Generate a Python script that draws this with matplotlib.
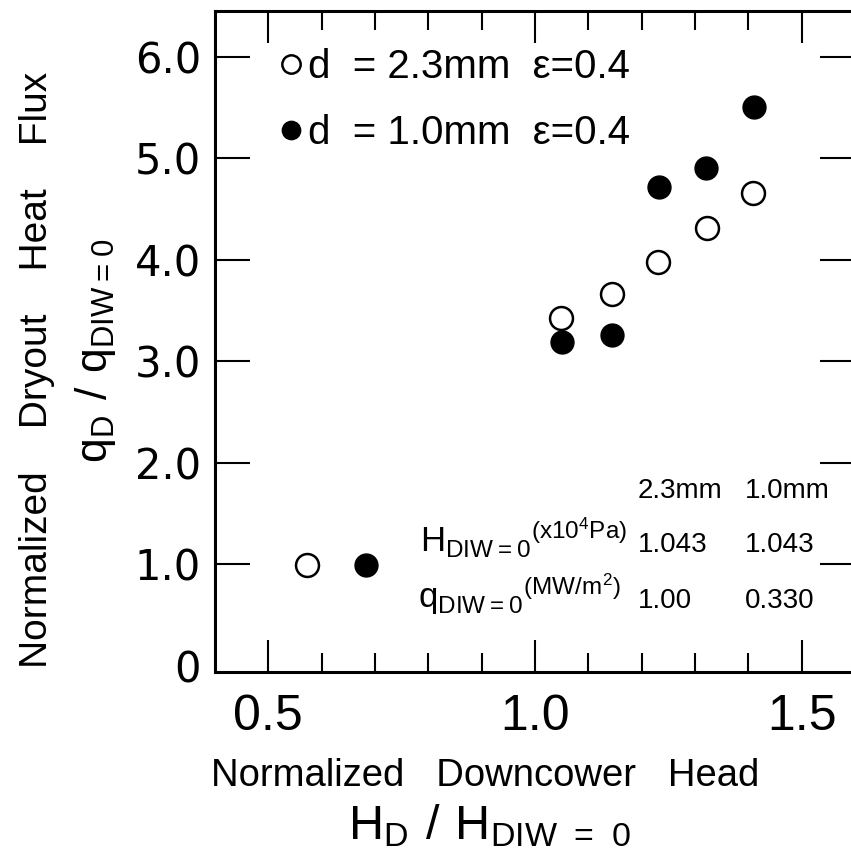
import numpy as np
import matplotlib
matplotlib.use('Agg')
import matplotlib.pyplot as plt
from matplotlib.ticker import FixedLocator, FixedFormatter

plt.rcParams['font.family'] = ['Liberation Sans', 'DejaVu Sans']
plt.rcParams['mathtext.fontset'] = 'custom'

# normalized dryout heat flux vs normalized downcomer head
h_23 = [0.573, 1.048, 1.144, 1.230, 1.322, 1.408]
q_23 = [0.99, 3.43, 3.66, 3.98, 4.31, 4.66]
h_10 = [0.684, 1.050, 1.144, 1.232, 1.320, 1.410]
q_10 = [0.99, 3.19, 3.26, 4.72, 4.90, 5.50]

lbl_23 = 'd  = 2.3mm  \u03b5=0.4'
lbl_10 = 'd  = 1.0mm  \u03b5=0.4'

# reference values at zero downcomer head
tab_cols = ['2.3mm', '1.0mm']
tab_H = ['1.043', '1.043']
tab_q = ['1.00', '0.330']

xt = [0.5, 1.0, 1.5]
xt_lbl = ['0.5', '1.0', '1.5']
xt_minor = [0.6, 0.7, 0.8, 0.9, 1.1, 1.2, 1.3, 1.4]
yt = [0, 1, 2, 3, 4, 5, 6]
yt_lbl = ['0', '1.0', '2.0', '3.0', '4.0', '5.0', '6.0']

fig = plt.figure(figsize=(8.51, 8.57), dpi=100)
ax = fig.add_axes([215/851, 185/857, 640/851, 661/857])

p1, = ax.plot(h_23, q_23, 'o', ms=16.5, mfc='white', mec='black', mew=1.8, ls='none')
p2, = ax.plot(h_10, q_10, 'o', ms=16.5, mfc='black', mec='black', mew=1.0, ls='none')

ax.set_xlim(0.4, 1.6)
ax.set_ylim(-0.06, 6.45)

for s in ax.spines.values():
    s.set_linewidth(2.2)

ax.xaxis.set_major_locator(FixedLocator(xt))
ax.xaxis.set_major_formatter(FixedFormatter(xt_lbl))
ax.xaxis.set_minor_locator(FixedLocator(xt_minor))
ax.yaxis.set_major_locator(FixedLocator(yt))
ax.yaxis.set_major_formatter(FixedFormatter(yt_lbl))

ax.tick_params(axis='x', which='major', direction='in', top=True, length=23, width=1.5,
               pad=16, labelsize=36)
ax.tick_params(axis='x', which='minor', direction='in', top=True, length=14, width=1.5)
ax.tick_params(axis='y', which='major', direction='in', right=True, length=25, width=1.5,
               pad=10, labelsize=30)
for lab in ax.get_yticklabels():
    lab.set_fontfamily('DejaVu Sans')
# no tick mark drawn at zero
ax.yaxis.get_major_ticks()[0].tick1line.set_visible(False)
ax.yaxis.get_major_ticks()[0].tick2line.set_visible(False)

leg = ax.legend([p1, p2], [lbl_23, lbl_10], loc='upper left', bbox_to_anchor=(0.075, 0.968),
                frameon=False, fontsize=29, markerscale=0.8, handlelength=0.6,
                handletextpad=0.12, labelspacing=0.68, borderaxespad=0)

# table of reference values
tx0, tx1 = 0.661, 0.828
ax.text(tx0, 0.263, tab_cols[0], transform=ax.transAxes, fontsize=20, va='baseline')
ax.text(tx1, 0.263, tab_cols[1], transform=ax.transAxes, fontsize=20, va='baseline')
ax.text(0.32, 0.182, r'$\mathregular{H_{DIW=0}{}^{(x10^4 Pa)}}$', transform=ax.transAxes,
        fontsize=25, va='baseline')
ax.text(tx0, 0.182, tab_H[0], transform=ax.transAxes, fontsize=20, va='baseline')
ax.text(tx1, 0.182, tab_H[1], transform=ax.transAxes, fontsize=20, va='baseline')
ax.text(0.317, 0.097, r'$\mathregular{q_{DIW=0}{}^{(MW/m^2)}}$', transform=ax.transAxes,
        fontsize=25, va='baseline')
ax.text(tx0, 0.097, tab_q[0], transform=ax.transAxes, fontsize=20, va='baseline')
ax.text(tx1, 0.097, tab_q[1], transform=ax.transAxes, fontsize=20, va='baseline')

# axis titles
fig.text(37/851, 1 - 370/857, 'Normalized    Dryout    Heat    Flux', rotation=90,
         ha='center', va='center', fontsize=28)
fig.text(95/851, 1 - 351/857, r'$\mathregular{q_D\ /\ q_{DIW=0}}$', rotation=90,
         ha='center', va='center', fontsize=32)
fig.text(485/851, 1 - 776/857, 'Normalized   Downcower   Head', ha='center', va='center',
         fontsize=27.5)
fig.text(490/851, 1 - 826/857, r'$\mathregular{H_D\ /\ H_{DIW\ =\ 0}}$', ha='center',
         va='center', fontsize=35)

fig.savefig('out.png', dpi=100)
